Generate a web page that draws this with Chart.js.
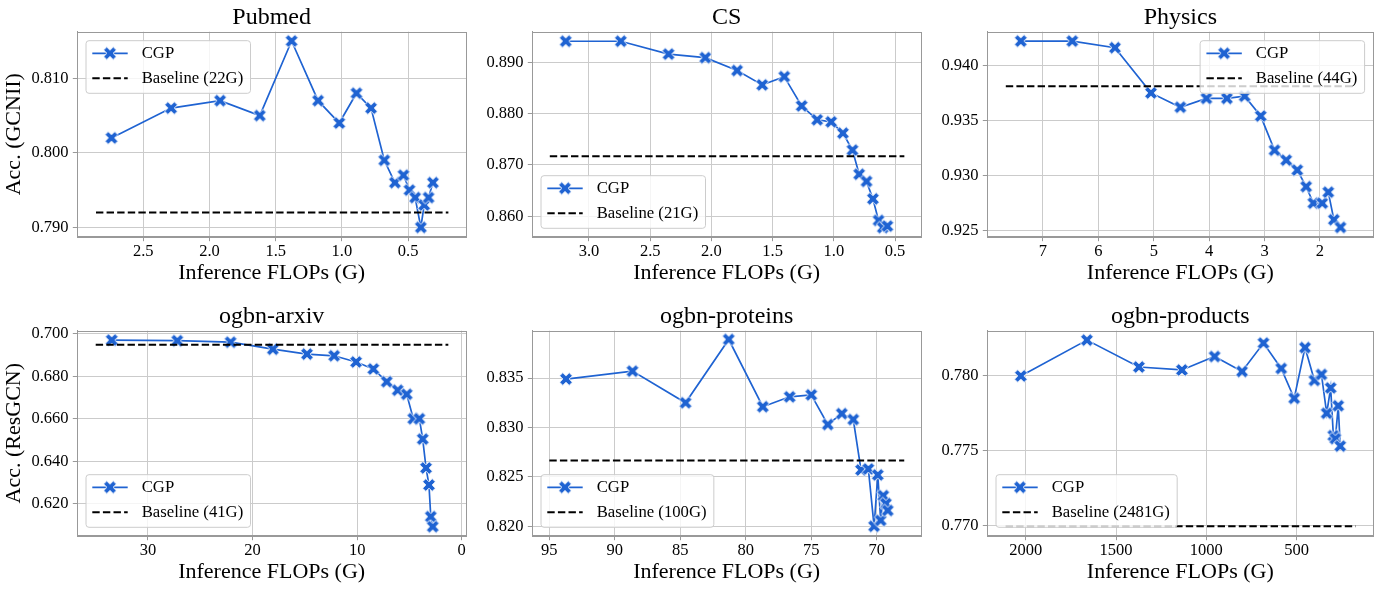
<!DOCTYPE html>
<html>
<head>
<meta charset="utf-8">
<script src="https://cdn.jsdelivr.net/npm/chart.js@4.4.0/dist/chart.umd.min.js"></script>
<style>
  html, body { margin: 0; padding: 0; background: #fff; }
  #wrap { position: relative; width: 1381px; height: 589px; }
  #wrap canvas { position: absolute; left: 0; top: 0; }
</style>
</head>
<body>
<div id="wrap">
  <canvas id="c0" width="1381" height="589"></canvas>
  <canvas id="c1" width="1381" height="589"></canvas>
  <canvas id="c2" width="1381" height="589"></canvas>
  <canvas id="c3" width="1381" height="589"></canvas>
  <canvas id="c4" width="1381" height="589"></canvas>
  <canvas id="c5" width="1381" height="589"></canvas>
</div>
<script>
// valeurs
const pubmedFlops = [2.74, 2.29, 1.92, 1.62, 1.38, 1.18, 1.02, 0.89, 0.78, 0.68, 0.60, 0.535, 0.49, 0.447, 0.404, 0.379, 0.346, 0.313];
const pubmedAcc = [0.802, 0.806, 0.807, 0.805, 0.815, 0.807, 0.804, 0.808, 0.806, 0.799, 0.796, 0.797, 0.795, 0.794, 0.790, 0.793, 0.794, 0.796];
const pubmedBaseline = 0.792;
const pubmedBaseSpan = [2.857, 0.196];
const pubmedXTicks = [2.5, 2.0, 1.5, 1.0, 0.5];
const pubmedYTicks = [0.790, 0.800, 0.810];

const csFlops = [3.19, 2.74, 2.35, 2.05, 1.79, 1.585, 1.405, 1.263, 1.136, 1.022, 0.926, 0.848, 0.793, 0.733, 0.681, 0.635, 0.60, 0.563];
const csAcc = [0.8941, 0.8941, 0.8916, 0.8909, 0.8884, 0.8856, 0.8872, 0.8815, 0.8788, 0.8784, 0.8762, 0.8729, 0.8682, 0.8668, 0.8634, 0.8592, 0.8578, 0.8581];
const csBaseline = 0.8717;
const csBaseSpan = [3.32, 0.424];
const csXTicks = [3.0, 2.5, 2.0, 1.5, 1.0, 0.5];
const csYTicks = [0.860, 0.870, 0.880, 0.890];

const physicsFlops = [7.40, 6.47, 5.70, 5.05, 4.52, 4.05, 3.68, 3.36, 3.07, 2.82, 2.61, 2.41, 2.25, 2.12, 1.96, 1.85, 1.75, 1.63];
const physicsAcc = [0.9422, 0.9422, 0.9416, 0.9375, 0.9362, 0.9370, 0.9370, 0.9372, 0.9354, 0.9323, 0.9314, 0.9305, 0.9290, 0.9275, 0.9275, 0.9285, 0.9260, 0.9253];
const physicsBaseline = 0.9381;
const physicsBaseSpan = [7.67, 1.355];
const physicsXTicks = [7, 6, 5, 4, 3, 2];
const physicsYTicks = [0.925, 0.930, 0.935, 0.940];

const arxivFlops = [33.47, 27.2, 22.1, 18.06, 14.8, 12.2, 10.1, 8.45, 7.17, 6.12, 5.26, 4.63, 4.05, 3.73, 3.41, 3.13, 2.96, 2.77];
const arxivAcc = [0.6970, 0.6967, 0.6960, 0.6927, 0.6904, 0.6896, 0.6867, 0.6834, 0.6774, 0.6734, 0.6715, 0.6600, 0.6600, 0.6504, 0.6368, 0.6288, 0.6139, 0.6092];
const arxivBaseline = 0.6948;
const arxivBaseSpan = [35.0, 1.28];
const arxivXTicks = [30, 20, 10, 0];
const arxivYTicks = [0.620, 0.640, 0.660, 0.680, 0.700];

const proteinsFlops = [93.73, 88.65, 84.6, 81.3, 78.7, 76.65, 75.0, 73.74, 72.67, 71.79, 71.2, 70.64, 70.2, 69.92, 69.7, 69.5, 69.3, 69.16];
const proteinsAcc = [0.8349, 0.8357, 0.8325, 0.8389, 0.8321, 0.8331, 0.8333, 0.8303, 0.8314, 0.8308, 0.8257, 0.8258, 0.8200, 0.8252, 0.8206, 0.8231, 0.8223, 0.8216];
const proteinsBaseline = 0.82666;
const proteinsBaseSpan = [95.0, 67.9];
const proteinsXTicks = [95, 90, 85, 80, 75, 70];
const proteinsYTicks = [0.820, 0.825, 0.830, 0.835];

const productsFlops = [2027, 1661, 1373, 1135, 954, 802, 683, 585, 513, 453, 401, 362, 333, 311, 296, 285, 269, 258];
const productsAcc = [0.7800, 0.7824, 0.7806, 0.7804, 0.7813, 0.7803, 0.7822, 0.7805, 0.7785, 0.7819, 0.7797, 0.7801, 0.7775, 0.7792, 0.7760, 0.7758, 0.7780, 0.7753];
const productsBaseline = 0.76993;
const productsBaseSpan = [2111.6, 172];
const productsXTicks = [2000, 1500, 1000, 500];
const productsYTicks = [0.770, 0.775, 0.780];

const BLUE = '#1f63d2';
const FONT = "'Liberation Serif', 'Times New Roman', 'DejaVu Serif', serif";
const W = 1381, H = 589;
const colLeft = [77.3, 532.3, 987.3];
const rowTop = [31.7, 330.7];
const plotW = 388.7, plotH = 205;

Chart.defaults.font.family = FONT;
Chart.defaults.color = '#000';

// marqueur "X" plein façon matplotlib
function makeMarker(size, color) {
    const c = document.createElement('canvas');
    c.width = c.height = 18;
    const g = c.getContext('2d');
    const pts = [[-1,-2],[0,-1],[1,-2],[2,-1],[1,0],[2,1],[1,2],[0,1],[-1,2],[-2,1],[-1,0],[-2,-1]];
    const k = size / 4;
    g.beginPath();
    pts.forEach(([px, py], i) => {
        const X = 9 + px * k, Y = 9 + py * k;
        if (i) g.lineTo(X, Y); else g.moveTo(X, Y);
    });
    g.closePath();
    g.fillStyle = color;
    g.fill();
    g.strokeStyle = '#fff';
    g.lineWidth = 0.9;
    g.stroke();
    return c;
}
const marker = makeMarker(12.8, BLUE);

// titre, légende encadrée et cadre des axes
const panelPlugin = {
    id: 'panel',
    afterDatasetsDraw(chart, args, opts) {
        const ctx = chart.ctx, a = chart.chartArea;
        ctx.save();
        // légende
        ctx.font = '16.7px ' + FONT;
        const items = chart.data.datasets;
        const textW = Math.max(...items.map(d => ctx.measureText(d.label).width));
        const w = 6.3 + 35.4 + 14 + textW + 7.3, h = 52.6;
        const x = opts.loc.indexOf('right') >= 0 ? a.right - 8.7 - w : a.left + 8.7;
        const y = opts.loc.indexOf('upper') >= 0 ? a.top + 9 : a.bottom - 8.4 - h;
        ctx.beginPath();
        ctx.roundRect(x, y, w, h, 3);
        ctx.fillStyle = 'rgba(255,255,255,0.8)';
        ctx.fill();
        ctx.strokeStyle = '#cccccc';
        ctx.lineWidth = 1;
        ctx.stroke();
        items.forEach((d, i) => {
            const ry = y + 12.6 + i * 25, hx = x + 6.3;
            ctx.strokeStyle = d.borderColor;
            ctx.lineWidth = d.borderWidth;
            ctx.setLineDash(d.borderDash || []);
            ctx.beginPath();
            ctx.moveTo(hx, ry);
            ctx.lineTo(hx + 35.4, ry);
            ctx.stroke();
            ctx.setLineDash([]);
            if (d.pointRadius > 0) ctx.drawImage(d.pointStyle, hx + 17.7 - 9, ry - 9);
            ctx.fillStyle = '#000';
            ctx.textBaseline = 'middle';
            ctx.textAlign = 'left';
            ctx.fillText(d.label, hx + 35.4 + 14, ry);
        });
        // cadre
        ctx.strokeStyle = '#999999';
        ctx.lineWidth = 1;
        ctx.strokeRect(Math.round(a.left) + 0.5, Math.round(a.top) + 0.5, Math.round(a.right - a.left), Math.round(a.bottom - a.top));
        // titre
        ctx.font = '24px ' + FONT;
        ctx.textAlign = 'center';
        ctx.textBaseline = 'alphabetic';
        ctx.fillText(opts.title, (a.left + a.right) / 2, a.top - 8);
        ctx.restore();
    }
};

const panels = [
    { id: 'c0', col: 0, row: 0, title: 'Pubmed', yLabel: 'Acc. (GCNII)', x: pubmedFlops, y: pubmedAcc, base: pubmedBaseline, baseX: pubmedBaseSpan, baseLabel: 'Baseline (22G)', xRange: [0.063, 2.998], yRange: [0.78875, 0.81625], xTicks: pubmedXTicks, yTicks: pubmedYTicks, xDec: 1, yDec: 3, loc: 'upper left' },
    { id: 'c1', col: 1, row: 0, title: 'CS', yLabel: '', x: csFlops, y: csAcc, base: csBaseline, baseX: csBaseSpan, baseLabel: 'Baseline (21G)', xRange: [0.288, 3.463], yRange: [0.85603, 0.89596], xTicks: csXTicks, yTicks: csYTicks, xDec: 1, yDec: 3, loc: 'lower left' },
    { id: 'c2', col: 2, row: 0, title: 'Physics', yLabel: '', x: physicsFlops, y: physicsAcc, base: physicsBaseline, baseX: physicsBaseSpan, baseLabel: 'Baseline (44G)', xRange: [1.038, 8.004], yRange: [0.92446, 0.94305], xTicks: physicsXTicks, yTicks: physicsYTicks, xDec: 0, yDec: 3, loc: 'upper right' },
    { id: 'c3', col: 0, row: 1, title: 'ogbn-arxiv', yLabel: 'Acc. (ResGCN)', x: arxivFlops, y: arxivAcc, base: arxivBaseline, baseX: arxivBaseSpan, baseLabel: 'Baseline (41G)', xRange: [-0.41, 36.76], yRange: [0.60494, 0.70141], xTicks: arxivXTicks, yTicks: arxivYTicks, xDec: 0, yDec: 3, loc: 'lower left' },
    { id: 'c4', col: 1, row: 1, title: 'ogbn-proteins', yLabel: '', x: proteinsFlops, y: proteinsAcc, base: proteinsBaseline, baseX: proteinsBaseSpan, baseLabel: 'Baseline (100G)', xRange: [66.62, 96.3], yRange: [0.81905, 0.83979], xTicks: proteinsXTicks, yTicks: proteinsYTicks, xDec: 0, yDec: 3, loc: 'lower left' },
    { id: 'c5', col: 2, row: 1, title: 'ogbn-products', yLabel: '', x: productsFlops, y: productsAcc, base: productsBaseline, baseX: productsBaseSpan, baseLabel: 'Baseline (2481G)', xRange: [74.8, 2212.9], yRange: [0.76930, 0.78303], xTicks: productsXTicks, yTicks: productsYTicks, xDec: 0, yDec: 3, loc: 'lower left' }
];

function buildPanel(p) {
    const left = colLeft[p.col], top = rowTop[p.row];
    const yW = p.col === 0 ? left : 60;
    const xH = 50.1;
    const grid = { color: '#cbcbcb', lineWidth: 1, tickColor: '#999999', tickLength: 4.5 };
    const border = { display: true, color: '#999999', width: 1 };

    new Chart(document.getElementById(p.id), {
        type: 'scatter',
        data: {
            datasets: [{
                label: 'CGP',
                data: p.x.map((v, i) => ({ x: v, y: p.y[i] })),
                showLine: true,
                borderColor: BLUE,
                backgroundColor: BLUE,
                borderWidth: 1.7,
                pointStyle: marker,
                pointRadius: 6,
                order: 1
            }, {
                label: p.baseLabel,
                data: p.baseX.map(v => ({ x: v, y: p.base })),
                showLine: true,
                borderColor: '#000',
                borderWidth: 2,
                borderDash: [7.4, 3.2],
                pointRadius: 0,
                order: 0
            }]
        },
        options: {
            responsive: false,
            animation: false,
            devicePixelRatio: 1,
            layout: { padding: { left: left - yW, top: top, right: W - (left + plotW), bottom: H - (top + plotH) - xH } },
            plugins: {
                legend: { display: false },
                tooltip: { enabled: false },
                panel: { loc: p.loc, title: p.title }
            },
            scales: {
                x: {
                    type: 'linear',
                    reverse: true,
                    min: p.xRange[0],
                    max: p.xRange[1],
                    afterFit: s => { s.height = xH; },
                    afterBuildTicks: s => { s.ticks = p.xTicks.map(v => ({ value: v })); },
                    ticks: { callback: v => v.toFixed(p.xDec), font: { size: 16.5 }, color: '#000', padding: 1, autoSkip: false, maxRotation: 0, minRotation: 0 },
                    grid: grid,
                    border: border,
                    title: { display: true, text: 'Inference FLOPs (G)', font: { size: 22 }, color: '#000', padding: 0 }
                },
                y: {
                    type: 'linear',
                    min: p.yRange[0],
                    max: p.yRange[1],
                    afterFit: s => { s.width = yW; },
                    afterBuildTicks: s => { s.ticks = p.yTicks.map(v => ({ value: v })); },
                    ticks: { callback: v => v.toFixed(p.yDec), font: { size: 16.5 }, color: '#000', padding: 4.2, autoSkip: false },
                    grid: grid,
                    border: border,
                    title: { display: p.yLabel !== '', text: p.yLabel, font: { size: 22 }, color: '#000', padding: { top: 1.1, bottom: 0 } }
                }
            }
        },
        plugins: [panelPlugin]
    });
}

panels.forEach(buildPanel);
</script>
</body>
</html>
